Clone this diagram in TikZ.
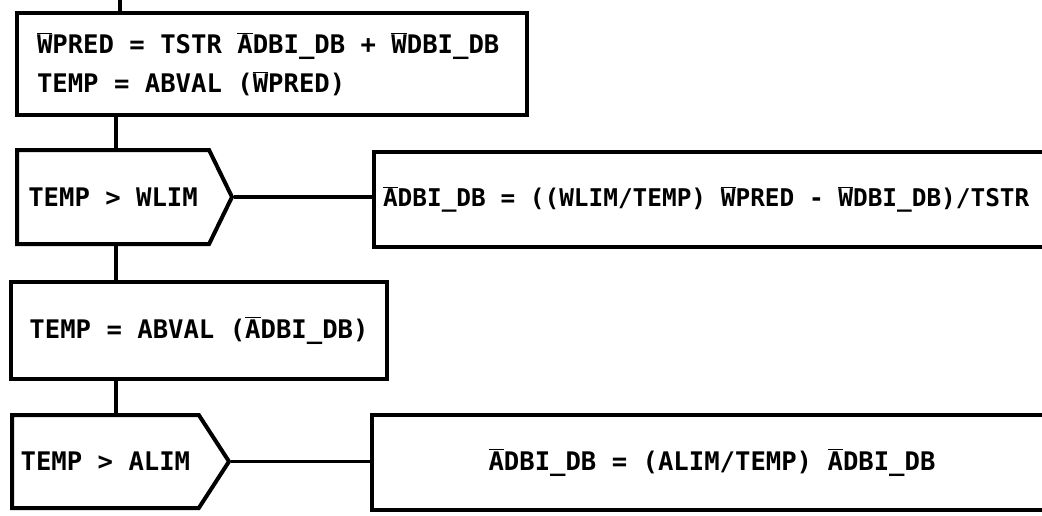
\documentclass[tikz,border=0pt]{standalone}
\usepackage{fontspec}
\newfontfamily\chartfont{DejaVu Sans Mono}
\usetikzlibrary{shapes.symbols,positioning}
\newcommand\px{0.75pt}
\newcommand\ovl[1]{$\overline{\mbox{#1}}$}
\tikzset{
  chartbox/.style={draw, line width=3pt, rectangle, inner sep=0pt,
    execute at begin node={\spaceskip=0pt\xspaceskip=0pt\relax}},
  testbox/.style={draw, line width=3pt, shape=signal, signal to=east, inner sep=0pt},
  flowline/.style={line width=2.4pt},
}
\begin{document}
\begin{tikzpicture}[x=\px, y=-\px, font={\chartfont\bfseries\fontsize{19.2pt}{29pt}\selectfont}]
    \useasboundingbox (0,0) rectangle (1042,515);
    \clip (0,0) rectangle (1042,515);
    \coordinate (entry) at (120,0);
    \coordinate (spine) at (116,0);

    \node[chartbox, anchor=north west, minimum height=102*\px,
        inner xsep=20*\px, text width=470*\px, align=left] (calc) at (15,11)
        {\ovl{W}PRED = TSTR \ovl{A}DBI\_DB + \ovl{W}DBI\_DB\\
         TEMP = ABVAL (\ovl{W}PRED)};

    \node[testbox, anchor=west, minimum width=215*\px, minimum height=94*\px,
        signal pointer angle=128] (wtest) at (15,197) {TEMP > WLIM};
    \node[chartbox, anchor=west, minimum height=95*\px,
        inner xsep=9*\px, text width=708*\px, align=left,
        font={\chartfont\bfseries\fontsize{18.3pt}{29pt}\selectfont}] (wclip) at (372,199.5)
        {\ovl{A}DBI\_DB = ((WLIM/TEMP) \ovl{W}PRED - \ovl{W}DBI\_DB)/TSTR};

    \node[chartbox, anchor=north west, minimum width=376*\px,
        minimum height=97*\px] (mag) at (9,280) {TEMP = ABVAL (\ovl{A}DBI\_DB)};

    \node[testbox, anchor=west, minimum width=217*\px, minimum height=93*\px,
        signal pointer angle=114] (atest) at (10,461.5) {TEMP > ALIM};
    \node[chartbox, anchor=west, minimum width=680*\px,
        minimum height=95*\px] (aclip) at (370,462.5)
        {\ovl{A}DBI\_DB = (ALIM/TEMP) \ovl{A}DBI\_DB};

    % connectors
    \draw[flowline] (entry) -- (entry |- calc.north);
    \draw[flowline] (calc.south -| spine) -- (wtest.north -| spine);
    \draw[flowline] (wtest.east) -- (wtest.east -| wclip.west);
    \draw[flowline] (wtest.south -| spine) -- (mag.north -| spine);
    \draw[flowline] (mag.south -| spine) -- (atest.north -| spine);
    \draw[flowline] (atest.east) -- (atest.east -| aclip.west);
\end{tikzpicture}
\end{document}
